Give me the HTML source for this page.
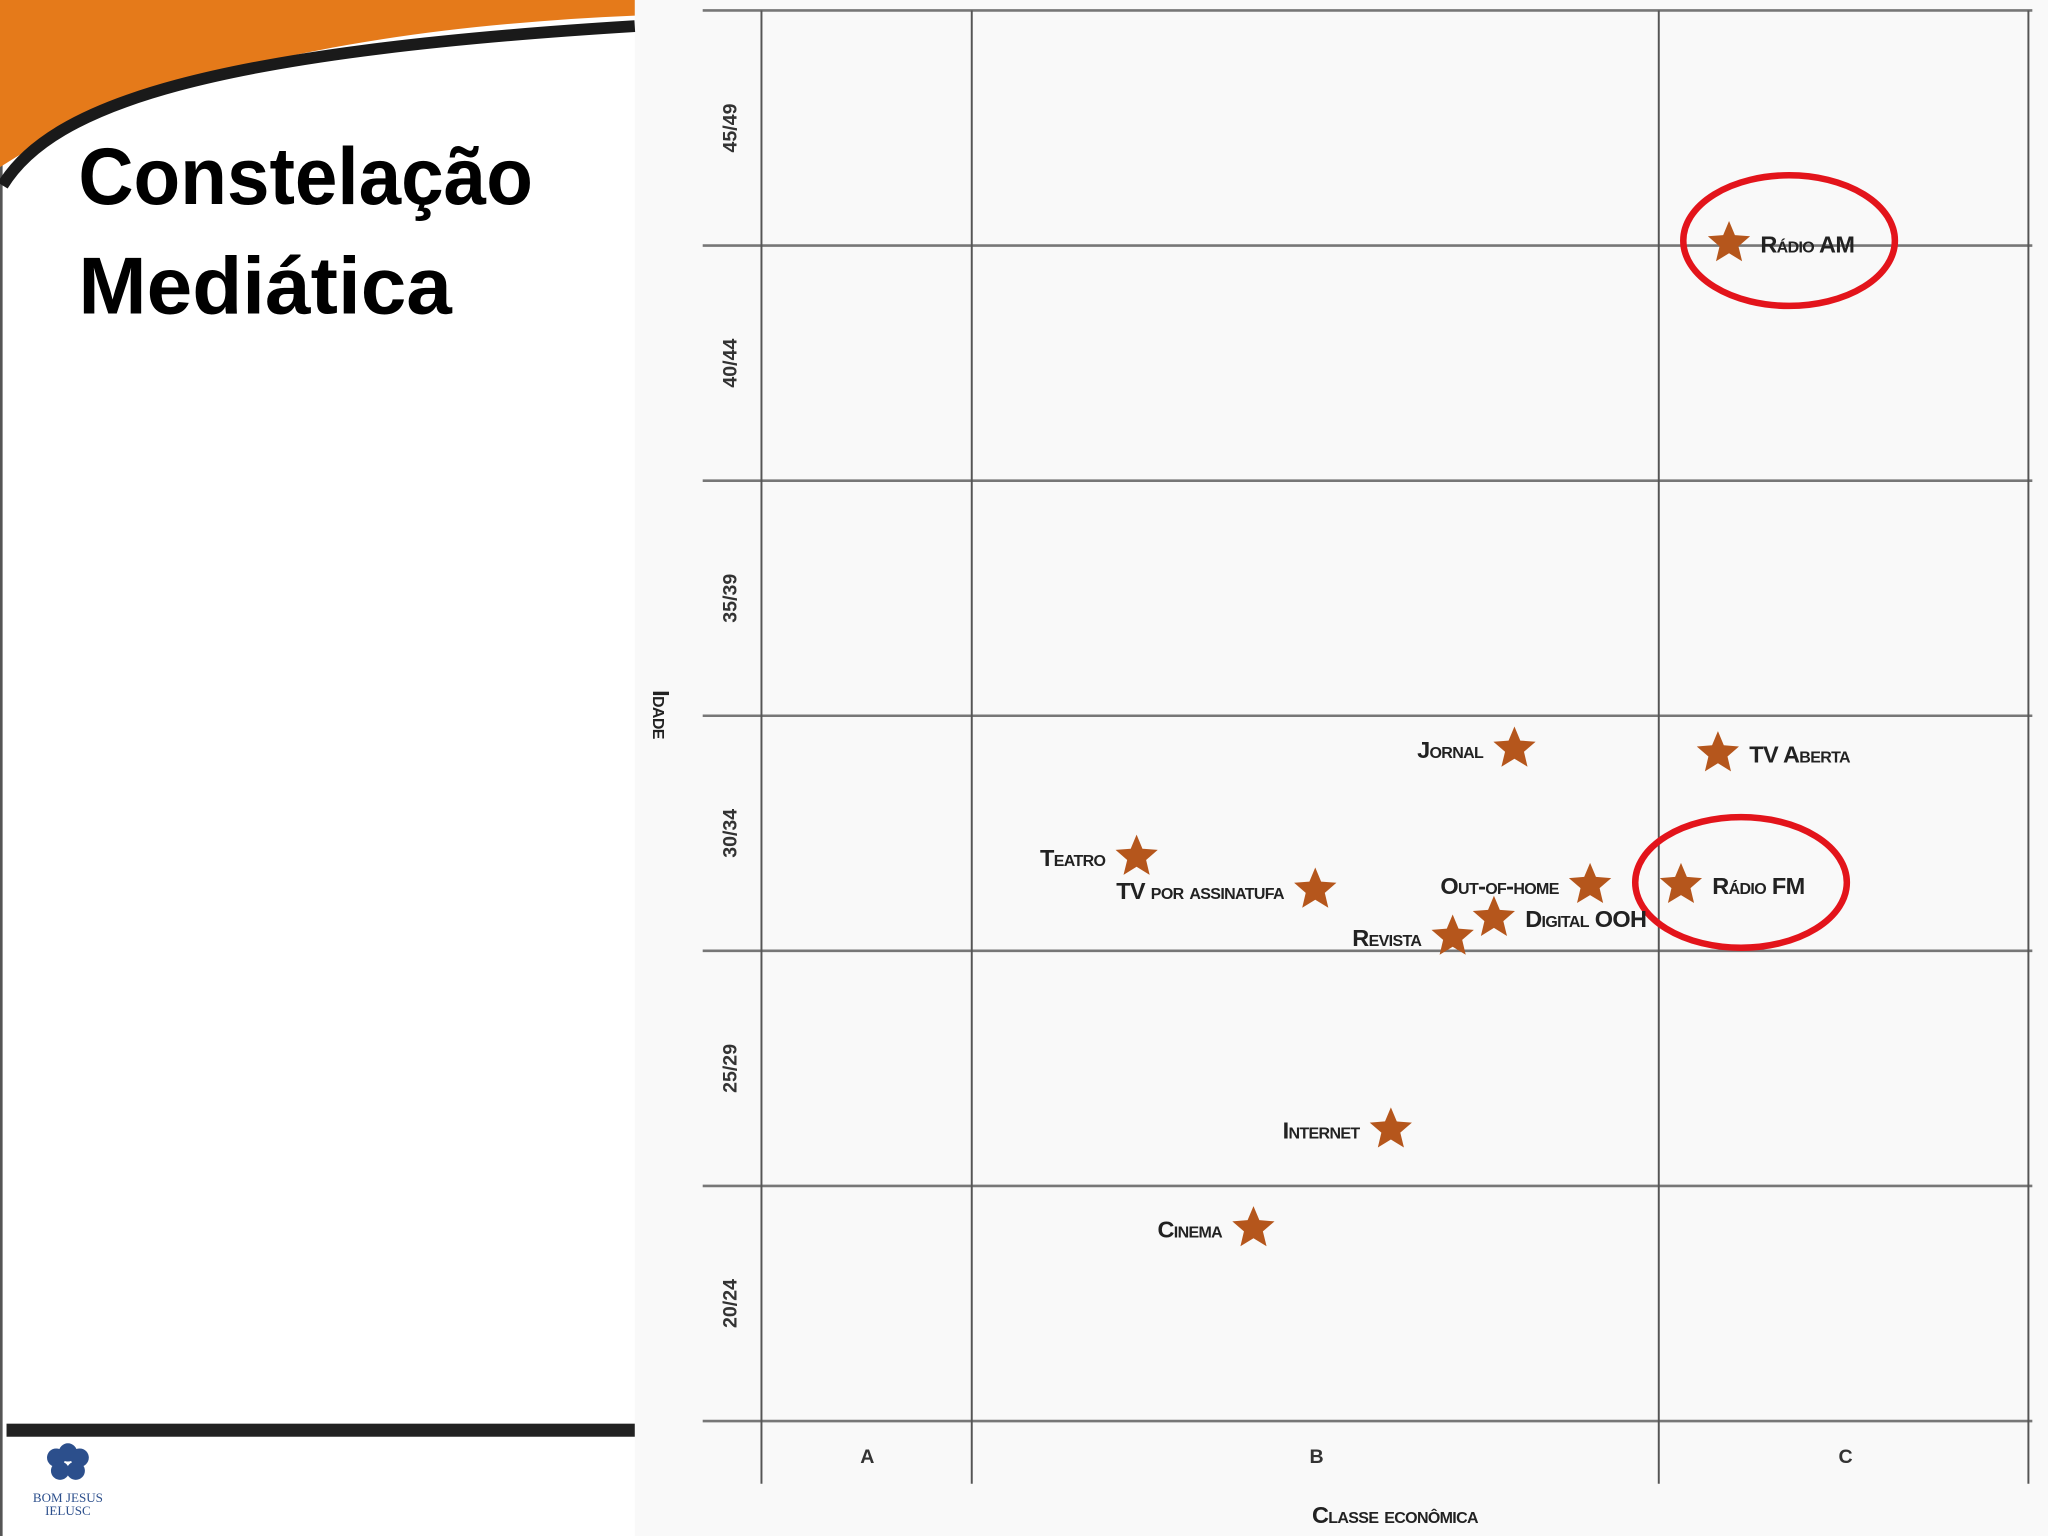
<!DOCTYPE html>
<html><head><meta charset="utf-8"><style>
html,body{margin:0;padding:0;width:2048px;height:1536px;overflow:hidden;background:#fff}
svg{display:block}
.lbl{font-family:"Liberation Sans",sans-serif;font-weight:bold;font-variant:small-caps;fill:#222;font-size:18px;letter-spacing:-0.5px}
.tick{font-family:"Liberation Sans",sans-serif;font-weight:bold;fill:#333;font-size:15px}
</style></head><body>
<svg width="2048" height="1536" viewBox="0 0 1568 1176" xmlns="http://www.w3.org/2000/svg">
<rect x="0" y="0" width="486" height="1176" fill="#ffffff"/>
<rect x="486" y="0" width="1082" height="1176" fill="#f9f9f9"/>
<rect x="0" y="0" width="2" height="1176" fill="#555"/>
<path d="M0,0 H486 V12 C300,20 120,50 0,128 Z" fill="#e57a1a"/>
<path d="M2,142 C40,80 160,40 486,20" stroke="#1a1a1a" stroke-width="9" fill="none"/>
<text x="60" y="156" font-family="Liberation Sans,sans-serif" font-weight="bold" font-size="62" fill="#000" textLength="348" lengthAdjust="spacingAndGlyphs">Constelação</text>
<text x="60" y="240" font-family="Liberation Sans,sans-serif" font-weight="bold" font-size="62" fill="#000" textLength="286" lengthAdjust="spacingAndGlyphs">Mediática</text>
<rect x="5" y="1090" width="481" height="10" fill="#222"/>
<g>
<circle cx="43" cy="1116" r="7" fill="#2c4f8c"/><circle cx="52" cy="1112" r="7" fill="#2c4f8c"/><circle cx="61" cy="1116" r="7" fill="#2c4f8c"/><circle cx="46" cy="1126" r="7" fill="#2c4f8c"/><circle cx="58" cy="1126" r="7" fill="#2c4f8c"/>
<text x="52" y="1150" text-anchor="middle" font-family="Liberation Serif,serif" font-size="10" fill="#2c4f8c">BOM JESUS</text>
<text x="52" y="1160" text-anchor="middle" font-family="Liberation Serif,serif" font-size="10" fill="#2c4f8c">IELUSC</text>
</g>
<g id="chart"></g>
</svg>
<script>
const classes=['A','B','C'];
const ageBands=['20/24','25/29','30/34','35/39','40/44','45/49'];
const mediaNames=['Rádio AM','TV Aberta','Rádio FM','Jornal','Teatro','TV por assinatufa','Out-of-home','Digital OOH','Revista','Internet','Cinema'];
const classValues=[2.19,2.16,2.06,1.79,1.24,1.50,1.90,1.76,1.70,1.61,1.41];
const ageValues=[45.05,34.2,31.4,34.3,32.0,31.3,31.4,30.7,30.3,26.2,24.1];
const labelSide=['right','right','right','left','left','left','left','right','left','left','left'];
const highlighted=['Rádio AM','Rádio FM'];

const NS='http://www.w3.org/2000/svg';
const g=document.getElementById('chart');
const colEdges=[583,744,1270,1553];
function xScale(v){const i=Math.min(Math.floor(v),2);return colEdges[i]+(v-i)*(colEdges[i+1]-colEdges[i]);}
function yScale(a){return 1088-(a-20)*36;}
function mk(tag,attrs){const e=document.createElementNS(NS,tag);for(const k in attrs)e.setAttribute(k,attrs[k]);g.appendChild(e);return e;}

ageBands.forEach((b,i)=>{
  const y=yScale(20+i*5);
  const l=mk('line',{x1:538,x2:1556,y1:y,y2:y,stroke:'#777','stroke-width':2});
  
  
  const cy=yScale(20+i*5+2.5);
  const t=mk('text',{class:'tick','text-anchor':'middle',transform:`translate(564,${cy}) rotate(-90)`});
  t.textContent=b;
  
  
});
{const y=yScale(50);const l=mk('line',{x1:538,x2:1556,y1:y,y2:y,stroke:'#777','stroke-width':2});

}
colEdges.forEach(x=>{
  const l=mk('line',{x1:x,x2:x,y1:yScale(50),y2:1136,stroke:'#555','stroke-width':1.5});
  
  
});
const xlabPos=[664,1008,1413];
classes.forEach((c,i)=>{
  const t=mk('text',{class:'tick','text-anchor':'middle',x:xlabPos[i],y:1120});
  t.textContent=c;
  
  
});
{const t=mk('text',{class:'lbl','text-anchor':'middle',x:1068,y:1166});t.textContent='Classe econômica';


const t2=mk('text',{class:'lbl','text-anchor':'middle',transform:'translate(500,547) rotate(90)','font-size':'16'});t2.textContent='Idade';

}

function starPath(cx,cy,R){const r=R*0.45;let d='';for(let k=0;k<10;k++){const a=-Math.PI/2+k*Math.PI/5;const rr=k%2?r:R;d+=(k?'L':'M')+(cx+rr*Math.cos(a)).toFixed(1)+','+(cy+rr*Math.sin(a)).toFixed(1);}return d+'Z';}

mediaNames.forEach((n,i)=>{
  const cx=xScale(classValues[i]),cy=yScale(ageValues[i]);
  const s=mk('path',{d:starPath(cx,cy,17),fill:'#b5561c'});
  
  
  const right=labelSide[i]==='right';
  const t=mk('text',{class:'lbl',x:right?cx+24:cx-24,y:cy+7,'text-anchor':right?'start':'end'});
  t.textContent=n;
  
  
  if(highlighted.includes(n)){
    const e=mk('ellipse',{cx:cx+46,cy:cy-2,rx:81,ry:50,fill:'none',stroke:'#e3141b','stroke-width':5});
    
    
  }
});
</script>
</body></html>
